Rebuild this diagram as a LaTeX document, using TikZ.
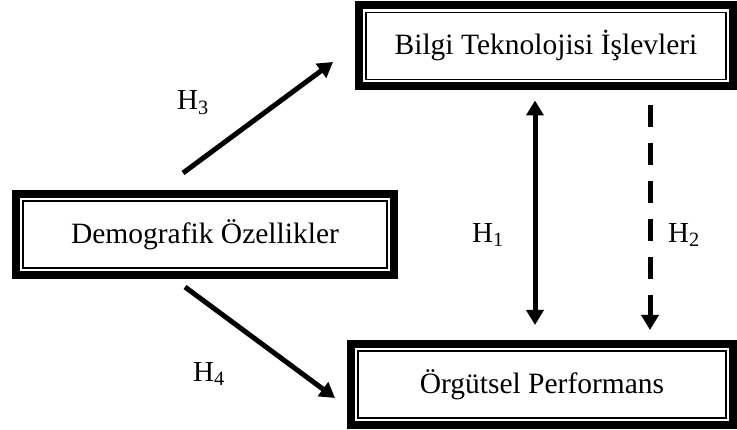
\documentclass[tikz,border=0pt]{standalone}
\usepackage{fontspec}
\setmainfont{Liberation Serif}
\usetikzlibrary{arrows.meta, positioning}

\begin{document}
\begin{tikzpicture}[
    x=1pt, y=1pt,
    box/.style={draw, line width=1.5pt, fill=white, minimum height=67pt, outer sep=11pt,
      preaction={draw, line width=22pt}, preaction={draw, white, line width=6pt},
      font=\fontsize{29.5}{34}\selectfont},
    arr/.style={-{Triangle[length=15pt, width=17pt]}, line width=5pt},
    lab/.style={font=\fontsize{29}{34}\selectfont},
  ]
  \useasboundingbox (0,0) rectangle (737,430);
  \node[box, minimum width=360pt] (tech) at (546,384)  {Bilgi Teknolojisi İşlevleri};
  \node[box, minimum width=364pt] (demo) at (205,195.5) {Demografik Özellikler};
  \node[box, minimum width=368pt] (perf) at (542,45.5)  {Örgütsel Performans};
  % hypotheses
  \draw[arr] ([shift={(-22pt,17pt)}]demo.north) -- ([shift={(-22pt,-16pt)}]tech.west);
  \draw[arr] ([shift={(-20pt,-8pt)}]demo.south) -- ([shift={(-12pt,-13.5pt)}]perf.west);
  \draw[arr, {Triangle[length=15pt, width=17pt]}-{Triangle[length=15pt, width=17pt]}, shorten <=10pt, shorten >=15pt]
    ([xshift=-11pt]tech.south) -- ([xshift=-11pt]tech.south |- perf.north);
  \draw[arr, dash pattern=on 22pt off 16pt, shorten <=15pt, shorten >=10pt]
    ([xshift=104pt]tech.south) -- ([xshift=104pt]tech.south |- perf.north);
  \node[lab] (h3) at (193,327) {H\textsubscript{3}};
  \node[lab] (h4) at (209,56)  {H\textsubscript{4}};
  \node[lab] (h1) at (488,195) {H\textsubscript{1}};
  \node[lab] (h2) at (684,195) {H\textsubscript{2}};
\end{tikzpicture}
\end{document}
